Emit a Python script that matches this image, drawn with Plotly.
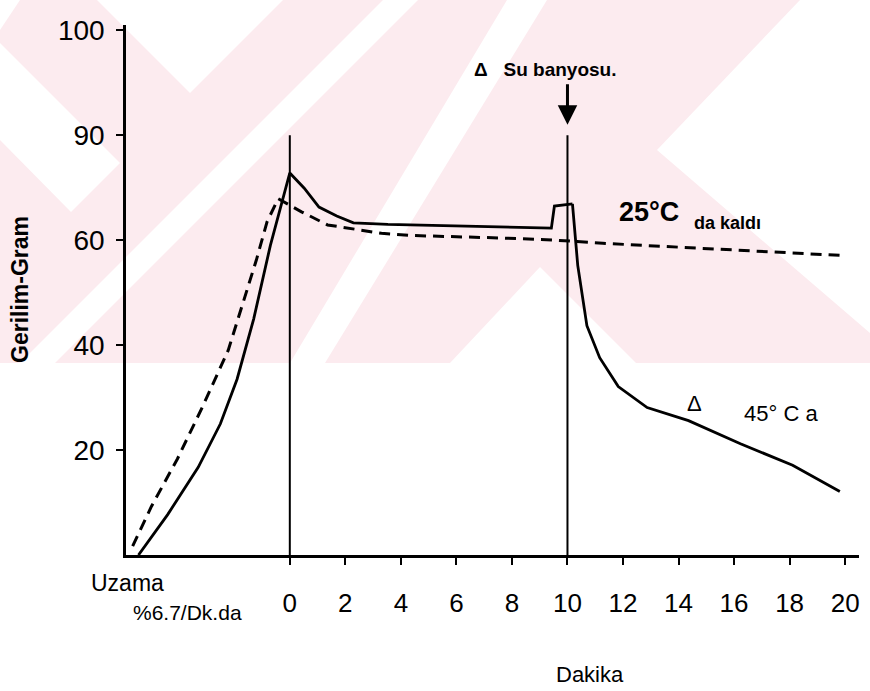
import plotly.graph_objects as go

# ---------------- data ----------------
# solid curve: elongation, then relaxation kept at 25 C up to the water bath
solid_25_x = [-5.45, -4.40, -3.30, -2.50, -1.90, -1.30, -0.70, -0.30, 0.0,
              0.52, 1.05, 1.69, 2.29, 3.53, 4.97, 7.26, 9.42, 9.53, 10.18]
solid_25_y = [0.0, 7.7, 16.7, 25.0, 33.5, 45.0, 59.0, 67.0, 72.8,
              69.9, 66.3, 64.6, 63.3, 63.0, 62.8, 62.5, 62.3, 66.5, 66.9]
# solid curve after the water bath at 45 C
solid_45_x = [10.18, 10.37, 10.70, 11.16, 11.83, 12.87, 14.36, 16.23, 18.11, 19.81]
solid_45_y = [66.9, 55.2, 43.7, 37.6, 32.1, 28.1, 25.6, 21.2, 17.1, 12.1]
# dashed curve: stays at 25 C
dashed_x = [-5.66, -4.98, -4.05, -3.13, -2.22, -1.20, -0.82, -0.42, 0.42, 1.36,
            3.30, 4.30, 7.65, 9.57, 11.27, 14.54, 19.36, 19.8]
dashed_y = [1.7, 9.3, 18.3, 28.4, 39.0, 56.3, 63.5, 67.9, 65.4, 62.9,
            61.3, 60.9, 60.4, 60.0, 59.4, 58.5, 57.2, 57.1]
# event markers (vertical lines)
event_x = [0, 10]
event_top = 80
bath_x = 10.0
bath_arrow_y = 82

x_ticks = [0, 2, 4, 6, 8, 10, 12, 14, 16, 18, 20]
x_ticktext = [str(v) for v in x_ticks]
y_tickpos = [20, 40, 60, 80, 100]
y_ticktext = ["20", "40", "60", "90", "100"]

# ---------------- layout constants ----------------
W, H = 870, 691
L, R, T, B = 126, 11, 25, 136
PW, PH = W - L - R, H - T - B
FONT = "Liberation Sans"


def px(x):
    return (x - L) / PW


def py(y):
    return (H - B - y) / PH


def poly(pts):
    return "M " + " L ".join(f"{px(a):.5f},{py(b):.5f}" for a, b in pts) + " Z"


# faint watermark in the scan (pink band with white diagonal stripes)
pink = "#fcebef"
wm_base = [(0, 0), (870, 0), (870, 363), (0, 363)]
wm_white = [
    [(0, 0), (20, 0), (0, 30)],
    [(0, 43), (120, 163), (71, 212), (0, 140)],
    [(97, 0), (283, 0), (190, 93)],
    [(383, 0), (418, 0), (55, 363), (20, 363)],
    [(507, 0), (547, 0), (325, 363), (290, 363)],
    [(540, 267), (636, 363), (450, 363)],
    [(800, 0), (870, 0), (870, 333), (657, 150)],
]
shapes = [dict(type="path", path=poly(wm_base), xref="paper", yref="paper",
               fillcolor=pink, line=dict(width=0), layer="below")]
for p in wm_white:
    shapes.append(dict(type="path", path=poly(p), xref="paper", yref="paper",
                       fillcolor="white", line=dict(width=0), layer="below"))

fig = go.Figure()

# vertical event lines
ev_x, ev_y = [], []
for e in event_x:
    ev_x += [e, e, None]
    ev_y += [0, event_top, None]
fig.add_trace(go.Scatter(x=ev_x, y=ev_y, mode="lines",
                         line=dict(color="black", width=2), hoverinfo="skip"))

fig.add_trace(go.Scatter(x=dashed_x, y=dashed_y, mode="lines",
                         line=dict(color="black", width=3, dash="11px,7px"),
                         name="25°C da kaldı"))
fig.add_trace(go.Scatter(x=solid_25_x, y=solid_25_y, mode="lines",
                         line=dict(color="black", width=2.8), name="solid"))
fig.add_trace(go.Scatter(x=solid_45_x, y=solid_45_y, mode="lines",
                         line=dict(color="black", width=2.8), name="45°C a"))


def txt(x, y, s, size, ref="x", angle=0):
    d = dict(x=x, y=y, xref=ref if ref == "paper" else "x",
             yref=ref if ref == "paper" else "y", text=s, showarrow=False,
             xanchor="center", yanchor="middle", textangle=angle,
             font=dict(family=FONT, size=size, color="black"))
    return d


ann = []
# arrow for the water bath
ann.append(dict(x=bath_x, y=bath_arrow_y, xref="x", yref="y", text="",
                showarrow=True, ax=0, ay=-42, arrowhead=2, arrowsize=1.3,
                arrowwidth=3, arrowcolor="black"))
ann.append(txt(9.2, 92.5, "<b>Δ</b>   <b>Su banyosu.</b>", 19))
ann.append(txt(12.95, 65.4, "<b>25°C</b>", 27))
ann.append(txt(15.75, 63.2, "<b>da kaldı</b>", 18))
ann.append(txt(14.56, 28.8, "Δ", 22))
ann.append(txt(17.7, 27.0, "45° C a", 22))
# axis-side labels
ann.append(txt(px(127), py(583), "Uzama", 23, ref="paper"))
ann.append(txt(px(187), py(612), "%6.7/Dk.da", 21, ref="paper"))
ann.append(txt(px(590), py(674), "Dakika", 22, ref="paper"))
ann.append(txt(px(20), py(290), "<b>Gerilim-Gram</b>", 23, ref="paper", angle=-90))

fig.update_layout(
    width=W, height=H,
    margin=dict(l=L, r=R, t=T, b=B, pad=0),
    paper_bgcolor="white", plot_bgcolor="rgba(0,0,0,0)",
    showlegend=False,
    shapes=shapes,
    annotations=ann,
    xaxis=dict(range=[-5.9, 20.5], showline=True, linecolor="black", linewidth=2.5,
               ticks="outside", ticklen=7, tickwidth=2, tickcolor="black",
               tickvals=x_ticks, ticktext=x_ticktext, ticklabelstandoff=16,
               tickfont=dict(family=FONT, size=26, color="black"),
               showgrid=False, zeroline=False),
    yaxis=dict(range=[0, 101], showline=True, linecolor="black", linewidth=2.5,
               ticks="outside", ticklen=7, tickwidth=2, tickcolor="black",
               tickvals=y_tickpos, ticktext=y_ticktext, ticklabelstandoff=6,
               tickfont=dict(family=FONT, size=28, color="black"),
               showgrid=False, zeroline=False),
)

fig.write_html("out.html")
